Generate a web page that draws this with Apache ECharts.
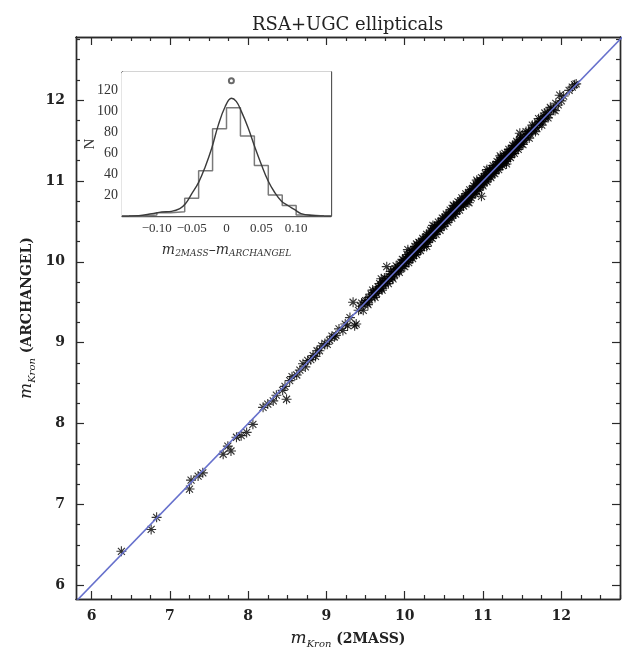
<!DOCTYPE html>
<html>
<head>
<meta charset="utf-8">
<script src="https://cdn.jsdelivr.net/npm/echarts@6/dist/echarts.min.js"></script>
<style>
html,body{margin:0;padding:0;background:#fff;}
#chart{width:628px;height:657px;}
</style>
</head>
<body>
<div id="chart"></div>
<script>
// ---------- main panel data: m_Kron (2MASS) vs m_Kron (ARCHANGEL) ----------
const massX = [
6.38,6.76,6.83,7.25,7.27,7.36,7.42,7.68,7.74,7.78,7.85,7.91,7.98,8.06,8.19,8.25,8.32,8.36,8.44,8.47,8.49,
8.53,8.56,8.62,8.66,8.70,8.73,8.76,8.80,8.83,8.86,8.88,8.91,8.94,8.98,9.01,9.04,9.07,9.10,9.12,9.16,9.21,9.24,9.27,9.30,9.34,9.36,9.38,9.41,9.44,9.47,9.49,
9.50,9.52,9.54,9.55,9.57,9.58,9.60,9.61,9.63,9.64,9.66,9.67,9.69,9.70,9.72,9.73,9.75,9.76,9.77,9.78,9.80,9.81,9.83,9.84,9.86,9.87,9.88,9.90,9.91,9.92,9.94,9.95,9.96,9.98,9.99,
10.00,10.01,10.02,10.04,10.04,10.05,10.06,10.07,10.08,10.09,10.10,10.11,10.12,10.13,10.14,10.15,10.16,10.17,10.18,10.19,10.20,10.21,10.22,10.23,10.24,10.25,10.26,10.27,10.28,10.28,10.29,10.30,10.31,10.32,10.33,10.34,10.35,10.36,10.37,10.38,10.39,10.40,10.41,10.42,10.43,10.44,10.45,10.46,10.47,10.48,10.49,
10.50,10.51,10.52,10.53,10.54,10.55,10.56,10.57,10.58,10.59,10.60,10.61,10.62,10.63,10.64,10.65,10.66,10.67,10.68,10.69,10.70,10.71,10.72,10.73,10.74,10.75,10.76,10.77,10.78,10.79,10.80,10.81,10.82,10.83,10.84,10.85,10.86,10.87,10.88,10.89,10.90,10.91,10.92,10.92,10.93,10.94,10.95,10.96,10.97,10.98,10.98,10.99,
11.00,11.01,11.02,11.03,11.04,11.05,11.06,11.07,11.08,11.09,11.10,11.11,11.12,11.13,11.14,11.15,11.16,11.17,11.18,11.19,11.20,11.21,11.22,11.23,11.24,11.25,11.26,11.27,11.28,11.29,11.30,11.31,11.32,11.33,11.34,11.35,11.36,11.37,11.38,11.39,11.40,11.41,11.42,11.43,11.44,11.45,11.46,11.47,11.47,11.48,11.49,
11.50,11.52,11.54,11.56,11.58,11.60,11.62,11.64,11.66,11.68,11.70,11.72,11.74,11.76,11.78,11.80,11.82,11.84,11.87,11.90,11.93,11.96,11.98,12.00,12.03,12.10,12.14,12.17,12.19,
9.45,9.53,9.59,9.62,9.68,9.71,9.74,9.79,9.82,9.85,9.89,9.93,9.97,10.00,10.03,10.05,10.08,10.10,10.13,10.15,10.18,10.20,10.23,10.25,10.28,10.30,10.33,10.35,10.38,10.40,10.43,10.45,10.48,10.50,10.53,10.55,10.58,10.60,10.63,10.65,10.68,10.70,10.73,10.75,10.78,10.80,10.83,10.85,10.88,10.90,10.93,10.95,10.98,11.00,11.03,11.05,11.08,11.10,11.13,11.15,11.18,11.20,11.23,11.25,11.28,11.30,11.33,11.35,11.38,11.40,11.43,11.45,11.48,11.51,11.55,11.59,11.63,11.67,11.71,11.75,11.79,11.83,11.86,11.92,10.62,10.36,11.05,10.15,9.70,11.22,10.82,11.30,
10.025,10.075,10.125,10.175,10.225,10.275,10.325,10.375,10.425,10.475,10.525,10.575,10.625,10.675,10.725,10.775,10.825,10.875,10.925,10.975,11.025,11.075,11.125,11.175,11.225,11.275,11.325,11.375,11.425,11.475,11.525,11.575,11.625,11.675,11.725,11.775,9.625,9.675,9.725,9.825,9.875,9.925,9.975
];
const archY = [
6.42,6.69,6.84,7.19,7.30,7.35,7.39,7.62,7.72,7.66,7.83,7.85,7.89,7.99,8.20,8.24,8.28,8.35,8.41,8.46,8.30,
8.53,8.58,8.60,8.66,8.74,8.70,8.78,8.79,8.84,8.83,8.90,8.90,8.96,8.99,8.98,9.03,9.08,9.07,9.09,9.17,9.15,9.23,9.21,9.31,9.50,9.21,9.23,9.40,9.45,9.40,9.50,
9.52,9.49,9.56,9.53,9.60,9.56,9.62,9.58,9.64,9.61,9.69,9.65,9.70,9.67,9.75,9.71,9.73,9.79,9.94,9.76,9.82,9.78,9.85,9.81,9.88,9.84,9.91,9.88,9.93,9.89,9.97,9.92,9.98,9.95,10.02,
9.98,10.04,10.00,10.15,10.06,10.02,10.09,10.05,10.11,10.06,10.12,10.08,10.15,10.11,10.16,10.12,10.19,10.14,10.20,10.17,10.23,10.18,10.24,10.21,10.27,10.22,10.28,10.25,10.19,10.31,10.27,10.33,10.29,10.34,10.30,10.37,10.33,10.38,10.34,10.41,10.37,10.42,10.38,10.45,10.41,10.46,10.43,10.49,10.44,10.50,10.47,
10.53,10.48,10.54,10.51,10.57,10.52,10.58,10.55,10.61,10.56,10.62,10.59,10.65,10.60,10.66,10.63,10.69,10.64,10.70,10.67,10.73,10.68,10.74,10.71,10.77,10.72,10.78,10.75,10.81,10.76,10.82,10.79,10.85,10.80,10.86,10.83,10.89,10.84,10.90,10.87,10.93,10.88,11.01,10.94,10.91,10.97,10.92,10.98,10.95,10.81,11.00,10.96,
11.03,10.99,11.04,11.01,11.07,11.02,11.08,11.05,11.11,11.06,11.12,11.09,11.15,11.10,11.16,11.13,11.19,11.14,11.20,11.17,11.23,11.18,11.24,11.21,11.27,11.22,11.28,11.25,11.31,11.26,11.32,11.29,11.35,11.30,11.36,11.33,11.39,11.34,11.40,11.37,11.43,11.38,11.44,11.41,11.47,11.42,11.48,11.59,11.45,11.51,11.46,
11.52,11.50,11.57,11.54,11.61,11.58,11.64,11.62,11.69,11.66,11.72,11.70,11.77,11.74,11.80,11.78,11.85,11.82,11.89,11.88,11.96,11.94,12.06,11.99,12.05,12.12,12.16,12.19,12.20,
9.49,9.47,9.65,9.56,9.73,9.65,9.80,9.73,9.88,9.79,9.95,9.87,10.03,9.94,10.09,9.99,10.14,10.04,10.19,10.09,10.24,10.14,10.29,10.19,10.34,10.24,10.39,10.29,10.44,10.34,10.49,10.39,10.54,10.44,10.59,10.49,10.64,10.54,10.69,10.59,10.74,10.64,10.79,10.69,10.84,10.74,10.89,10.79,10.94,10.84,10.99,10.89,11.04,10.94,11.09,10.99,11.14,11.04,11.19,11.09,11.24,11.14,11.29,11.19,11.34,11.24,11.39,11.29,11.44,11.34,11.49,11.39,11.54,11.45,11.61,11.53,11.69,11.61,11.77,11.69,11.84,11.78,11.91,11.87,10.70,10.45,11.14,10.22,9.79,11.31,10.73,11.21,
10.035,10.065,10.13,10.165,10.235,10.27,10.315,10.385,10.42,10.465,10.535,10.57,10.615,10.685,10.72,10.765,10.835,10.87,10.915,10.985,11.02,11.065,11.135,11.17,11.215,11.285,11.32,11.365,11.435,11.47,11.515,11.585,11.62,11.665,11.735,11.77,9.635,9.665,9.735,9.815,9.885,9.915,9.985
];
const oneToOne = [5.5, 13.0];
const majorTicks = [6, 7, 8, 9, 10, 11, 12];
const minorTicks = [5.75,6.25,6.5,6.75,7.25,7.5,7.75,8.25,8.5,8.75,9.25,9.5,9.75,10.25,10.5,10.75,11.25,11.5,11.75,12.25,12.5,12.75];

// ---------- inset data: histogram of m_2MASS - m_ARCHANGEL ----------
const binLeft = [-0.14,-0.12,-0.10,-0.08,-0.06,-0.04,-0.02,0.00,0.02,0.04,0.06,0.08,0.10,0.12];
const binCount = [0,1,3,4,17,43,83,103,76,48,20,10,1,0];
const curveX = [-0.150,-0.126,-0.107,-0.093,-0.079,-0.067,-0.059,-0.050,-0.040,-0.031,-0.021,-0.012,-0.002,0.007,0.014,0.021,0.031,0.041,0.050,0.060,0.069,0.079,0.088,0.098,0.107,0.121,0.150];
const curveN = [0,0.3,2.2,3.8,4.4,7,11.6,21,32,46,65,86,104,112,109,100,84,65,49,33,22.6,14,10,6,2.2,0.6,0];
const peakMark = [[0.007, 128.7]];

const serif = 'DejaVu Serif';
const serif2 = 'Liberation Serif';
const axisCol = '#2a2a2a';
const insetCol = '#555';

const scatterData = massX.map((x, i) => [x, archY[i]]);
const lineData = oneToOne.map(v => [v, v]);
const histData = binLeft.map((x, i) => [x, binCount[i]]);
histData.push([binLeft[binLeft.length - 1] + 0.02, binCount[binCount.length - 1]]);
const curveData = curveX.map((x, i) => [x, curveN[i]]);

const asterisk = 'path://M0 8.9H20V11.1H0Z M8.9 0H11.1V20H8.9Z M2.2 3.8L3.8 2.2L17.8 16.2L16.2 17.8Z M16.2 2.2L17.8 3.8L3.8 17.8L2.2 16.2Z';

const richMain = {
  m: { fontFamily: serif, fontStyle: 'italic', fontSize: 17, color: '#222', lineHeight: 20 },
  s: { fontFamily: serif, fontStyle: 'italic', fontSize: 10, color: '#222', verticalAlign: 'bottom', lineHeight: 12 },
  b: { fontFamily: serif, fontWeight: 'bold', fontSize: 14, color: '#222', lineHeight: 20 }
};

function mainX(pos, ticks, len, withLabel, withName) {
  const a = {
    type: 'value', gridIndex: 0, position: pos, min: 5.8, max: 12.75,
    nameMoveOverlap: false,
    axisLine: { show: true, onZero: false, lineStyle: { color: axisCol, width: 1.4 } },
    axisTick: { show: true, inside: true, length: len, customValues: ticks, lineStyle: { color: axisCol, width: 1.2 } },
    axisLabel: { show: withLabel, customValues: majorTicks, margin: 10, color: '#222', fontFamily: serif, fontWeight: 'bold', fontSize: 14 },
    splitLine: { show: false }
  };
  if (withName) {
    a.name = '{m|m}{s|Kron}{b| (2MASS)}';
    a.nameLocation = 'middle';
    a.nameGap = 30;
    a.nameTextStyle = { rich: richMain };
  }
  return a;
}
function mainY(pos, ticks, len, withLabel, withName) {
  const a = {
    type: 'value', gridIndex: 0, position: pos, min: 5.83, max: 12.78,
    nameMoveOverlap: false,
    axisLine: { show: true, onZero: false, lineStyle: { color: axisCol, width: 1.4 } },
    axisTick: { show: true, inside: true, length: len, customValues: ticks, lineStyle: { color: axisCol, width: 1.2 } },
    axisLabel: { show: withLabel, customValues: majorTicks, margin: 11, color: '#222', fontFamily: serif, fontWeight: 'bold', fontSize: 14 },
    splitLine: { show: false }
  };
  if (withName) {
    a.name = '{m|m}{s|Kron}{b| (ARCHANGEL)}';
    a.nameLocation = 'middle';
    a.nameGap = 39;
    a.nameRotate = 90;
    a.nameTextStyle = { rich: richMain };
  }
  return a;
}
function insetX(pos, withLabel) {
  const a = {
    type: 'value', gridIndex: 1, position: pos, min: -0.15, max: 0.15, interval: 0.05,
    nameMoveOverlap: false,
    axisLine: { show: true, onZero: false, lineStyle: { color: insetCol, width: 1.3 } },
    axisTick: { show: true, inside: true, length: 4, lineStyle: { color: insetCol } },
    axisLabel: {
      show: withLabel, showMinLabel: false, showMaxLabel: false, margin: 6,
      color: '#333', fontFamily: serif2, fontSize: 13,
      formatter: v => Math.abs(v) < 1e-9 ? '0' : (v < 0 ? '\u2212' : '') + Math.abs(v).toFixed(2)
    },
    splitLine: { show: false }
  };
  if (withLabel) {
    a.name = '{m|m}{s|2MASS}{m|\u2013m}{s|ARCHANGEL}';
    a.nameLocation = 'middle';
    a.nameGap = 26;
    a.nameTextStyle = {
      rich: {
        m: { fontFamily: serif, fontStyle: 'italic', fontSize: 14, color: '#333', lineHeight: 16 },
        s: { fontFamily: serif, fontStyle: 'italic', fontSize: 9, color: '#333', verticalAlign: 'bottom', lineHeight: 10 }
      }
    };
  }
  return a;
}
function insetY(pos, withLabel) {
  const a = {
    type: 'value', gridIndex: 1, position: pos, min: 0, max: 137, interval: 20,
    nameMoveOverlap: false,
    axisLine: { show: true, onZero: false, lineStyle: { color: insetCol, width: 1.3 } },
    axisTick: { show: true, inside: true, length: 4, lineStyle: { color: insetCol } },
    axisLabel: { show: withLabel, showMinLabel: false, showMaxLabel: false, margin: 4, color: '#333', fontFamily: serif2, fontSize: 14 },
    splitLine: { show: false }
  };
  if (withLabel) {
    a.name = 'N';
    a.nameLocation = 'middle';
    a.nameGap = 24;
    a.nameRotate = 90;
    a.nameTextStyle = { fontFamily: serif2, fontSize: 15, color: '#333' };
  }
  return a;
}

const chart = echarts.init(document.getElementById('chart'), null, { renderer: 'canvas' });
chart.setOption({
  backgroundColor: '#fff',
  animation: false,
  title: {
    text: 'RSA+UGC ellipticals',
    left: 247, top: 11,
    textStyle: { fontFamily: serif, fontSize: 18, fontWeight: 'normal', color: '#222' }
  },
  grid: [
    { left: 76, right: 8, top: 37, bottom: 58, outerBoundsMode: 'none', containLabel: false },
    { left: 122, top: 72, width: 209, height: 144, show: true, backgroundColor: '#fff', borderWidth: 0, z: 5, outerBoundsMode: 'none', containLabel: false }
  ],
  xAxis: [
    mainX('bottom', majorTicks, 8, true, true),
    mainX('bottom', minorTicks, 4, false, false),
    mainX('top', majorTicks, 8, false, false),
    mainX('top', minorTicks, 4, false, false),
    insetX('bottom', true),
    insetX('top', false)
  ],
  yAxis: [
    mainY('left', majorTicks, 8, true, true),
    mainY('left', minorTicks, 4, false, false),
    mainY('right', majorTicks, 8, false, false),
    mainY('right', minorTicks, 4, false, false),
    insetY('left', true),
    insetY('right', false)
  ],
  series: [
    {
      type: 'scatter', xAxisIndex: 0, yAxisIndex: 0, data: scatterData,
      symbol: asterisk, symbolSize: 10,
      itemStyle: { color: '#000' }, z: 2
    },
    {
      type: 'line', xAxisIndex: 0, yAxisIndex: 0, data: lineData,
      symbol: 'none', clip: true,
      lineStyle: { color: '#6670cc', width: 1.6 }, z: 3
    },
    {
      type: 'line', xAxisIndex: 4, yAxisIndex: 4, data: histData,
      step: 'end', symbol: 'none', clip: true,
      lineStyle: { color: '#7a7a7a', width: 1.5 }, z: 6
    },
    {
      type: 'line', xAxisIndex: 4, yAxisIndex: 4, data: curveData,
      smooth: 0.4, symbol: 'none', clip: true,
      lineStyle: { color: '#3a3a3a', width: 1.4 }, z: 7
    },
    {
      type: 'scatter', xAxisIndex: 4, yAxisIndex: 4, data: peakMark,
      symbol: 'emptyCircle', symbolSize: 5,
      itemStyle: { color: '#444', borderWidth: 1.2 }, z: 8
    }
  ]
});
</script>
</body>
</html>
